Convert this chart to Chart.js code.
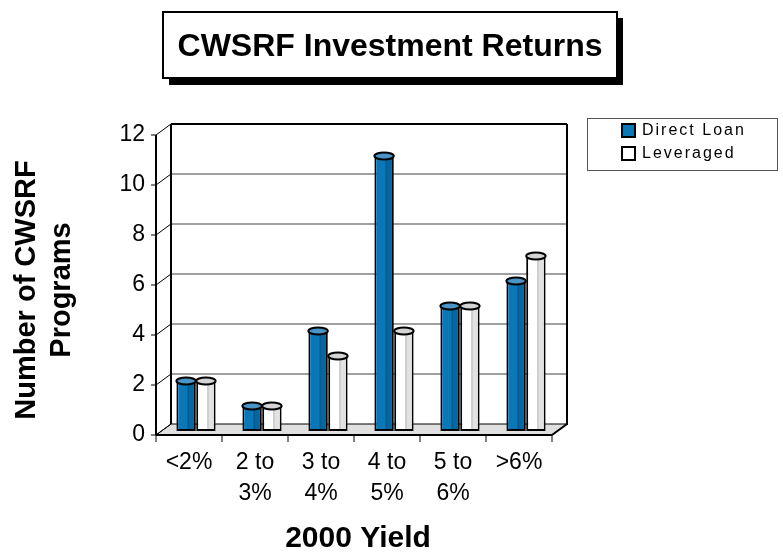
<!DOCTYPE html>
<html>
<head>
<meta charset="utf-8">
<script src="https://cdn.jsdelivr.net/npm/chart.js@4.4.0/dist/chart.umd.min.js"></script>
<style>
  html, body { margin: 0; padding: 0; background: #fff; }
  #wrap { position: relative; width: 783px; height: 557px; }
</style>
</head>
<body>
<div id="wrap"><canvas id="chart" width="783" height="557"></canvas></div>
<script>
const categories = [['<2%'], ['2 to', '3%'], ['3 to', '4%'], ['4 to', '5%'], ['5 to', '6%'], ['>6%']];
const directLoan = [2, 1, 4, 11, 5, 6];
const leveraged = [2, 1, 3, 4, 5, 7];
const yTicks = [0, 2, 4, 6, 8, 10, 12];
const seriesNames = ['Direct Loan', 'Leveraged'];
const chartTitle = 'CWSRF Investment Returns';
const yTitle = ['Number of CWSRF', 'Programs'];
const xTitle = '2000 Yield';

const FONT = "'Liberation Sans', Arial, sans-serif";
const DEPTH_X = 15, DEPTH_Y = -11;   // back wall offset from front plane
const BAR_DX = 7, BAR_DY = -4;       // bars stand half way in
const BLUE = { front: '#0a78b8', side: '#0567a2', top: '#4a94c8' };
const WHITE = { front: '#ffffff', side: '#e2e2e2', top: '#d4d4d4' };

function line(ctx, x1, y1, x2, y2) {
    ctx.beginPath();
    ctx.moveTo(x1, y1);
    ctx.lineTo(x2, y2);
    ctx.stroke();
}

const box3d = {
    id: 'box3d',
    beforeDatasetsDraw(chart) {
        const { ctx, chartArea: a, scales: { x, y } } = chart;
        ctx.save();
        // floor
        ctx.beginPath();
        ctx.moveTo(a.left, a.bottom);
        ctx.lineTo(a.right, a.bottom);
        ctx.lineTo(a.right + DEPTH_X, a.bottom + DEPTH_Y);
        ctx.lineTo(a.left + DEPTH_X, a.bottom + DEPTH_Y);
        ctx.closePath();
        ctx.fillStyle = '#e0e0e0';
        ctx.fill();
        ctx.strokeStyle = '#000';
        ctx.lineWidth = 1;
        ctx.stroke();

        // back wall grid
        ctx.strokeStyle = '#808080';
        ctx.lineWidth = 1.5;
        yTicks.forEach(v => {
            if (v === 0 || v === 12) return;
            const py = y.getPixelForValue(v) + DEPTH_Y;
            line(ctx, a.left + DEPTH_X, py, a.right + DEPTH_X, py);
        });

        // left wall diagonals and tick marks
        ctx.strokeStyle = '#000';
        ctx.lineWidth = 1;
        yTicks.forEach(v => {
            const py = y.getPixelForValue(v);
            line(ctx, a.left, py, a.left + DEPTH_X, py + DEPTH_Y);
            line(ctx, a.left - 5, py, a.left, py);
        });

        // back wall frame
        ctx.lineWidth = 2;
        const top = a.top + DEPTH_Y, bot = a.bottom + DEPTH_Y;
        line(ctx, a.left + DEPTH_X, top, a.right + DEPTH_X, top);
        line(ctx, a.left + DEPTH_X, top, a.left + DEPTH_X, bot);
        line(ctx, a.right + DEPTH_X, top, a.right + DEPTH_X, bot + 1);
        // front y axis
        line(ctx, a.left, a.top, a.left, a.bottom);
        ctx.restore();

        ctx.save();
        ctx.translate(BAR_DX, BAR_DY);
    },
    afterDatasetsDraw(chart) {
        const { ctx, chartArea: a, scales: { x } } = chart;
        [BLUE, WHITE].forEach((col, di) => {
            chart.getDatasetMeta(di).data.forEach(bar => {
                const { x: bx, y: by, base, width: w } = bar.getProps(['x', 'y', 'base', 'width'], true);
                const l = bx - w / 2, r = bx + w / 2;
                const split = l + w * 0.6;
                ctx.fillStyle = col.side;
                ctx.fillRect(split, by + 2, r - 2 - split, base - by - 4);
                ctx.strokeStyle = 'rgba(0,0,0,0.25)';
                ctx.lineWidth = 1;
                line(ctx, split, by + 2, split, base - 2);
                ctx.beginPath();
                ctx.ellipse(bx, by, w / 2, 3.5, 0, 0, Math.PI * 2);
                ctx.fillStyle = col.top;
                ctx.fill();
                ctx.strokeStyle = '#000';
                ctx.lineWidth = 2;
                ctx.stroke();
            });
        });
        ctx.restore();

        // front x axis with ticks between categories
        ctx.save();
        ctx.strokeStyle = '#000';
        ctx.lineWidth = 2;
        line(ctx, a.left, a.bottom, a.right, a.bottom);
        line(ctx, a.right, a.bottom, a.right + DEPTH_X, a.bottom + DEPTH_Y);
        ctx.lineWidth = 1;
        const step = (a.right - a.left) / categories.length;
        for (let i = 0; i <= categories.length; i++) {
            const px = a.left + i * step;
            line(ctx, px, a.bottom, px, a.bottom + 7);
        }
        ctx.restore();
    },
    afterDraw(chart) {
        const { ctx } = chart;
        ctx.save();
        // title box with shadow
        ctx.fillStyle = '#000';
        ctx.fillRect(169, 18, 454, 67);
        ctx.fillStyle = '#fff';
        ctx.fillRect(163, 12, 454, 66);
        ctx.strokeStyle = '#000';
        ctx.lineWidth = 2;
        ctx.strokeRect(163, 12, 454, 66);
        ctx.fillStyle = '#000';
        ctx.font = 'bold 32px ' + FONT;
        ctx.textAlign = 'center';
        ctx.textBaseline = 'alphabetic';
        ctx.fillText(chartTitle, 390, 56);

        // axis titles
        ctx.font = 'bold 30px ' + FONT;
        ctx.fillText(xTitle, 358, 547);
        ctx.save();
        ctx.translate(0, 290);
        ctx.rotate(-Math.PI / 2);
        ctx.font = 'bold 29px ' + FONT;
        ctx.textBaseline = 'middle';
        ctx.fillText(yTitle[0], 0, 27);
        ctx.fillText(yTitle[1], 0, 62);
        ctx.restore();

        // legend
        ctx.fillStyle = '#fff';
        ctx.fillRect(587, 118, 190, 52);
        ctx.strokeStyle = '#555';
        ctx.lineWidth = 1;
        ctx.strokeRect(587.5, 118.5, 190, 52);
        ctx.font = '16px ' + FONT;
        ctx.textAlign = 'left';
        ctx.textBaseline = 'middle';
        ctx.letterSpacing = '2px';
        [BLUE, WHITE].forEach((col, i) => {
            const sy = 124 + i * 23;
            ctx.fillStyle = col.front;
            ctx.fillRect(622, sy, 13, 13);
            ctx.strokeStyle = '#000';
            ctx.lineWidth = 2;
            ctx.strokeRect(622, sy, 13, 13);
            ctx.fillStyle = '#000';
            ctx.fillText(seriesNames[i], 642, sy + 7);
        });
        ctx.restore();
    }
};

const ctx = document.getElementById('chart').getContext('2d');
new Chart(ctx, {
    type: 'bar',
    data: {
        labels: categories,
        datasets: [
            {
                label: seriesNames[0],
                data: directLoan,
                backgroundColor: BLUE.front,
                borderColor: '#000',
                borderWidth: 2,
                borderSkipped: false,
                categoryPercentage: 0.6,
                barPercentage: 0.98
            },
            {
                label: seriesNames[1],
                data: leveraged,
                backgroundColor: WHITE.front,
                borderColor: '#000',
                borderWidth: 2,
                borderSkipped: false,
                categoryPercentage: 0.6,
                barPercentage: 0.98
            }
        ]
    },
    options: {
        responsive: false,
        animation: false,
        events: [],
        layout: { padding: { top: 135, right: 231, left: 0, bottom: 0 } },
        plugins: {
            legend: { display: false },
            title: { display: false },
            tooltip: { enabled: false }
        },
        scales: {
            x: {
                grid: { display: false, drawTicks: false },
                border: { display: false },
                ticks: {
                    color: '#000',
                    font: { family: FONT, size: 23, lineHeight: 1.35 },
                    padding: 12,
                    maxRotation: 0,
                    autoSkip: false
                },
                afterFit(s) { s.height = 122; }
            },
            y: {
                min: 0,
                max: 12,
                grid: { display: false, drawTicks: false },
                border: { display: false },
                ticks: {
                    stepSize: 2,
                    color: '#000',
                    font: { family: FONT, size: 23 },
                    padding: 11
                },
                afterFit(s) { s.width = 156; }
            }
        }
    },
    plugins: [box3d]
});
</script>
</body>
</html>
